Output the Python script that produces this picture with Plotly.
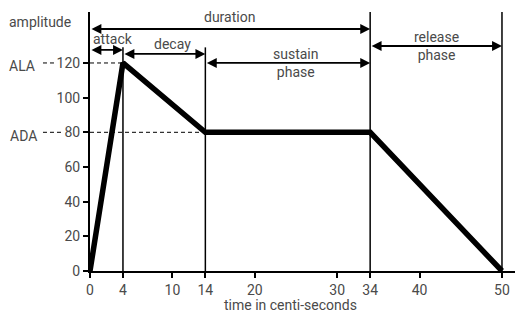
import plotly.graph_objects as go

# Envelope data
time_points = [0, 4, 14, 34, 50]
amplitude = [0, 120, 80, 80, 0]
x_ticks = [0, 4, 10, 14, 20, 30, 34, 40, 50]
y_ticks = [0, 20, 40, 60, 80, 100, 120]
ALA = 120
ADA = 80

XMAX = 51.58
YMAX = 149.4
FONT = "Roboto"
GREY = "#4a4a4a"
FS = 14

def py(v):
    return v / YMAX

fig = go.Figure()
fig.add_trace(go.Scatter(x=time_points, y=amplitude, mode="lines",
                         line=dict(color="black", width=5.5), hoverinfo="skip",
                         cliponaxis=False))

shapes = []
# vertical phase lines
for t, top in [(time_points[1], 129), (time_points[2], 129)]:
    shapes.append(dict(type="line", xref="x", yref="y", x0=t, x1=t, y0=0, y1=top,
                       line=dict(color="black", width=1.5)))
for t in [time_points[3], time_points[4]]:
    shapes.append(dict(type="line", xref="x", yref="paper", x0=t, x1=t, y0=0, y1=1,
                       line=dict(color="black", width=1.5)))
# dashed level lines inside plot
shapes.append(dict(type="line", xref="x", yref="y", x0=0, x1=time_points[1], y0=ALA, y1=ALA,
                   line=dict(color="black", width=1, dash="4px,3px")))
shapes.append(dict(type="line", xref="x", yref="y", x0=0, x1=time_points[2], y0=ADA, y1=ADA,
                   line=dict(color="black", width=1, dash="4px,3px")))
# dashed level lines left of tick labels (paper coords)
shapes.append(dict(type="line", xref="paper", yref="paper", x0=-0.1106, x1=-0.082, y0=py(ALA), y1=py(ALA),
                   line=dict(color="black", width=1, dash="4px,3px")))
shapes.append(dict(type="line", xref="paper", yref="paper", x0=-0.1106, x1=-0.066, y0=py(ADA), y1=py(ADA),
                   line=dict(color="black", width=1, dash="4px,3px")))

annotations = []

def darrow(x0, x1, y):
    annotations.append(dict(x=x1, y=y, ax=x0, ay=y, xref="x", yref="y", axref="x", ayref="y",
                            text="", showarrow=True, arrowhead=2, startarrowhead=2,
                            arrowside="end+start", arrowsize=1.1, startarrowsize=1.1,
                            arrowwidth=1.8, arrowcolor="black", standoff=0, startstandoff=0))

darrow(0, time_points[3], 139.6)          # duration
darrow(0, time_points[1], 127.5)          # attack
darrow(time_points[1], time_points[2], 125.2)  # decay
darrow(time_points[2], time_points[3], 120)    # sustain
darrow(time_points[3], time_points[4], 129.8)  # release

def label(text, x, y, xref="x", yref="y", size=FS):
    annotations.append(dict(text=text, x=x, y=y, xref=xref, yref=yref, showarrow=False,
                            font=dict(family=FONT, size=size, color=GREY),
                            xanchor="center", yanchor="middle"))

label("duration", 16.9, 146.3)
label("attack", 2.8, 133.6)
label("decay", 10.0, 131.0)
label("sustain<br>phase", 25.0, 120.2)
label("release<br>phase", 42.0, 130.0)
label("amplitude", -0.1176, 0.961, xref="paper", yref="paper")
label("ALA", -0.159, 0.79, xref="paper", yref="paper")
label("ADA", -0.157, 0.521, xref="paper", yref="paper")
label("time in centi-seconds", 24.3, -0.13, yref="paper")

fig.update_layout(
    width=515, height=320,
    margin=dict(l=90, r=0, t=12, b=49),
    paper_bgcolor="white", plot_bgcolor="white",
    showlegend=False,
    shapes=shapes, annotations=annotations,
    font=dict(family=FONT, size=FS, color=GREY),
    xaxis=dict(range=[0, XMAX], tickvals=x_ticks, ticktext=[str(t) for t in x_ticks],
               showgrid=False, zeroline=False, showline=True, linecolor="black", linewidth=2,
               ticks="outside", ticklen=5, tickwidth=1.5, tickcolor="black",
               tickfont=dict(family=FONT, size=FS, color=GREY), fixedrange=True),
    yaxis=dict(range=[0, YMAX], tickvals=y_ticks, ticktext=[str(t) for t in y_ticks],
               showgrid=False, zeroline=False, showline=True, linecolor="black", linewidth=2,
               ticks="outside", ticklen=5, tickwidth=1.5, tickcolor="black",
               tickfont=dict(family=FONT, size=FS, color=GREY), fixedrange=True),
)

fig.write_html("out.html", config=dict(displayModeBar=False),
               post_script="document.body.style.margin='0';document.body.style.overflow='hidden';")
